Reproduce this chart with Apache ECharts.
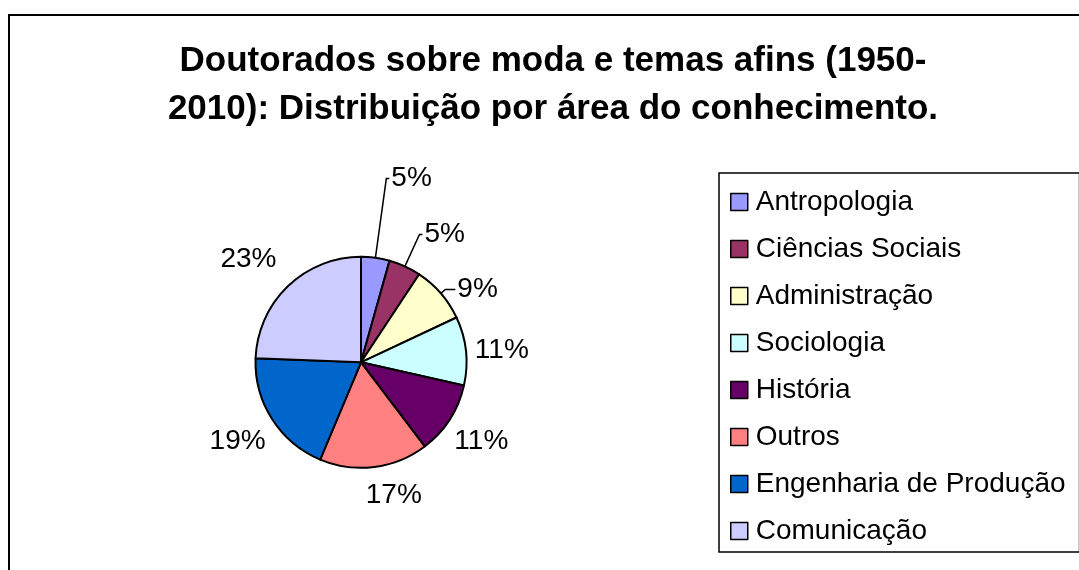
<!DOCTYPE html>
<html>
<head>
<meta charset="utf-8">
<script src="https://cdn.jsdelivr.net/npm/echarts@6/dist/echarts.min.js"></script>
<style>
  html, body { margin: 0; padding: 0; background: #fff; }
  #chart { width: 1079px; height: 570px; }
</style>
</head>
<body>
<div id="chart"></div>
<script>
// áreas do conhecimento, na ordem do gráfico (sentido horário a partir do topo)
const categories = [
  "Antropologia",
  "Ciências Sociais",
  "Administração",
  "Sociologia",
  "História",
  "Outros",
  "Engenharia de Produção",
  "Comunicação",
];
// fatias (percentual)
const shares = [4.36, 4.94, 8.72, 10.5, 11.17, 16.64, 19.28, 24.39];
// rótulos impressos no gráfico original
const pctLabels = ["5%", "5%", "9%", "11%", "11%", "17%", "19%", "23%"];
const colors = ["#9999FF", "#993366", "#FFFFCC", "#CCFFFF", "#660066", "#FF8080", "#0066CC", "#CCCCFF"];

// ajuste fino das linhas de chamada (posição dos rótulos)
const labelLines = [
  { show: true, length: 80, length2: 3 },
  { show: true, length: 35, length2: 3 },
  { show: true, length: 6, length2: 10 },
  { show: false, length: 2, length2: 5 },
  { show: false, length: 40, length2: -31 },
  { show: false, length: 29, length2: -14 },
  { show: false, length: 42, length2: -31 },
  { show: false, length: 38, length2: -17 },
];

const FONT = "'Liberation Sans', Arial, sans-serif";

const chart = echarts.init(document.getElementById("chart"));

const option = {
  backgroundColor: "#fff",
  animation: false,
  title: {
    text: "Doutorados sobre moda e temas afins (1950-\n2010): Distribuição por área do conhecimento.",
    left: 553,
    top: 37,
    padding: 0,
    textAlign: "center",
    textStyle: {
      fontFamily: FONT,
      fontSize: 35,
      fontWeight: "bold",
      color: "#000",
      lineHeight: 48,
    },
  },
  legend: {
    orient: "vertical",
    left: 719,
    top: 173,
    padding: [14, 14, 6, 11],
    itemGap: 17,
    itemWidth: 17,
    itemHeight: 17,
    icon: "rect",
    borderColor: "#000",
    borderWidth: 1.5,
    itemStyle: { borderColor: "#000", borderWidth: 1.5 },
    textStyle: {
      fontFamily: FONT,
      fontSize: 28,
      color: "#000",
      lineHeight: 30,
      padding: [0, 0, 0, 3],
    },
    data: categories,
  },
  graphic: [
    {
      type: "rect",
      shape: { x: 9, y: 15, width: 1200, height: 700 },
      style: { fill: "none", stroke: "#000", lineWidth: 2 },
      silent: true,
    },
  ],
  series: [
    {
      type: "pie",
      center: [361, 362.3],
      radius: 105.5,
      startAngle: 90,
      clockwise: true,
      avoidLabelOverlap: false,
      itemStyle: { borderColor: "#000", borderWidth: 2 },
      label: {
        show: true,
        position: "outside",
        fontFamily: FONT,
        fontSize: 28,
        color: "#000",
        distanceToLabelLine: 2,
      },
      labelLine: {
        lineStyle: { color: "#000", width: 1.5 },
        smooth: false,
      },
      emphasis: { disabled: true },
      data: categories.map((name, i) => ({
        name,
        value: shares[i],
        itemStyle: { color: colors[i] },
        label: { formatter: pctLabels[i] },
        labelLine: labelLines[i],
      })),
    },
  ],
};

chart.setOption(option);
</script>
</body>
</html>
